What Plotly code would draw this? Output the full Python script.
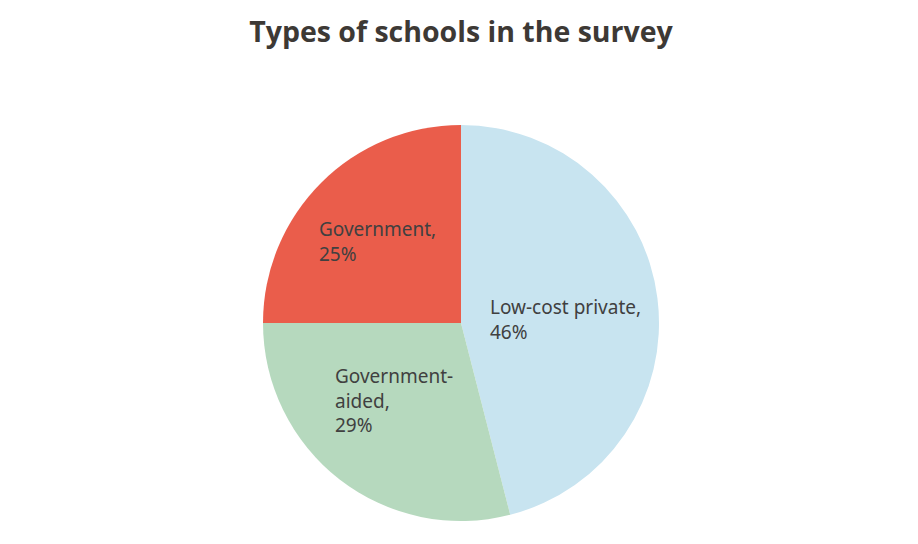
import plotly.graph_objects as go

labels = ["Low-cost private", "Government-aided", "Government"]
values = [46, 29, 25]
colors = ["#C8E4F0", "#B6D9BE", "#EA5D4B"]
label_text = ["Low-cost private,<br>46%", "Government-<br>aided,<br>29%", "Government,<br>25%"]

OFF = 8  # page body margin
W, H = 918, 544
L, R, T, B = 0, 12, 117, 31
PW, PH = W - L - R, H - T - B

def px(x):
    return (x - OFF - L) / PW

def py(y):
    return 1 - (y - OFF - T) / PH

# text anchor positions (page pixels): left x, top y
label_pos = [(488, 292), (333, 361), (317, 214)]

fig = go.Figure(go.Pie(
    labels=labels,
    values=values,
    marker=dict(colors=colors, line=dict(width=0)),
    sort=False,
    direction="clockwise",
    rotation=0,
    textinfo="none",
    hoverinfo="label+percent",
    showlegend=False,
))

annotations = []
for txt, (x, y) in zip(label_text, label_pos):
    annotations.append(dict(
        text=txt, x=px(x), y=py(y), xref="paper", yref="paper",
        xanchor="left", yanchor="top", align="left", showarrow=False,
        font=dict(family="Noto Sans, Open Sans, sans-serif", size=19, color="#404040"),
    ))

fig.update_layout(
    width=W, height=H,
    margin=dict(l=L, r=R, t=T, b=B),
    paper_bgcolor="white", plot_bgcolor="white",
    title=dict(
        text="<b>Types of schools in the survey</b>",
        x=(461 - OFF) / W, xanchor="center", y=1 - (32 - OFF) / H, yanchor="middle",
        font=dict(family="Open Sans, Noto Sans, sans-serif", size=28.5, color="#3D3935"),
    ),
    annotations=annotations,
)

fig.write_html("out.html")
